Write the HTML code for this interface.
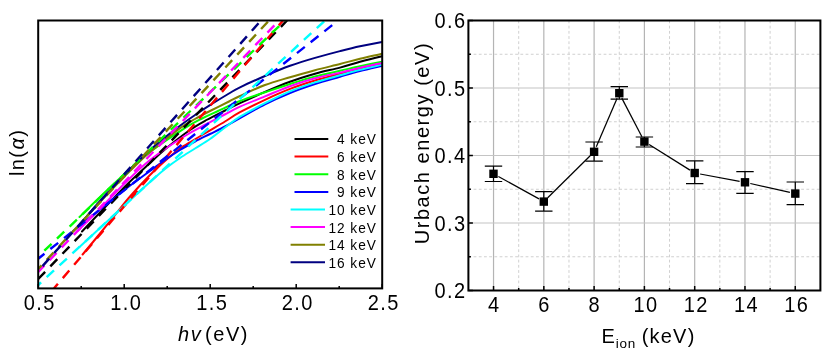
<!DOCTYPE html>
<html><head><meta charset="utf-8"><title>plot</title>
<style>html,body{margin:0;padding:0;background:#fff;overflow:hidden}svg{display:block;}text{filter:grayscale(1)}</style></head>
<body>
<svg width="830" height="354" viewBox="0 0 830 354">
<rect x="0" y="0" width="830" height="354" fill="#ffffff"/>
<defs><clipPath id="cl"><rect x="38.2" y="20.5" width="344.0" height="267.9"/></clipPath></defs>
<g clip-path="url(#cl)" fill="none">
<path d="M82.0 231.5 C85.0 228.3 92.8 220.0 100.0 212.5 C107.2 205.0 116.7 194.8 125.0 186.5 C133.3 178.2 143.2 169.3 150.0 163.0 C156.8 156.7 159.6 153.8 166.0 148.5 C172.4 143.2 181.8 135.8 188.5 131.0 C195.2 126.2 200.4 123.4 206.5 120.0 C212.6 116.6 219.4 113.3 225.0 110.5 C230.6 107.7 233.3 106.3 240.0 103.2 C246.7 100.1 256.7 95.5 265.0 91.9 C273.3 88.3 281.7 84.7 290.0 81.7 C298.3 78.7 306.7 76.2 315.0 73.8 C323.3 71.4 332.5 69.6 340.0 67.6 C347.5 65.6 353.0 63.7 360.0 61.8 C367.0 59.9 378.3 57.1 382.0 56.2" stroke="#000000" stroke-width="2" stroke-linecap="round"/>
<path d="M82.6 254.5 C85.5 251.0 94.6 240.1 100.0 233.5 C105.4 226.9 110.0 221.2 115.0 215.0 C120.0 208.8 124.2 203.2 130.0 196.5 C135.8 189.8 143.3 181.7 150.0 175.0 C156.7 168.3 165.0 160.9 170.0 156.5 C175.0 152.1 176.3 151.1 180.0 148.5 C183.7 145.9 187.6 143.7 192.0 141.0 C196.4 138.3 201.0 135.8 206.5 132.5 C212.0 129.2 219.4 124.9 225.0 121.5 C230.6 118.1 233.3 115.8 240.0 112.2 C246.7 108.6 256.7 103.7 265.0 99.8 C273.3 95.9 281.7 92.1 290.0 88.9 C298.3 85.7 306.7 83.0 315.0 80.5 C323.3 78.0 332.5 75.8 340.0 73.8 C347.5 71.8 353.0 70.3 360.0 68.7 C367.0 67.1 378.3 64.8 382.0 64.0" stroke="#ff0000" stroke-width="2" stroke-linecap="round"/>
<path d="M79.5 217.0 C82.9 213.7 92.4 204.2 100.0 197.0 C107.6 189.8 116.7 181.0 125.0 173.5 C133.3 166.0 140.2 159.5 150.0 152.0 C159.8 144.5 175.3 134.2 184.0 128.6 C192.7 123.0 196.3 121.4 202.0 118.5 C207.7 115.6 211.7 113.9 218.0 111.0 C224.3 108.1 232.2 104.1 240.0 101.0 C247.8 97.9 256.7 95.1 265.0 92.3 C273.3 89.5 281.7 86.6 290.0 84.0 C298.3 81.4 306.7 78.7 315.0 76.5 C323.3 74.3 332.5 72.5 340.0 70.8 C347.5 69.1 353.0 67.7 360.0 66.2 C367.0 64.7 378.3 62.5 382.0 61.8" stroke="#00ff00" stroke-width="2" stroke-linecap="round"/>
<path d="M73.0 231.0 C77.5 227.4 91.3 216.4 100.0 209.5 C108.7 202.6 116.7 195.9 125.0 189.5 C133.3 183.1 143.3 175.9 150.0 171.0 C156.7 166.1 160.0 163.5 165.0 160.0 C170.0 156.5 175.0 153.1 180.0 150.0 C185.0 146.9 190.0 144.2 195.0 141.5 C200.0 138.8 205.0 136.5 210.0 134.0 C215.0 131.5 220.0 129.2 225.0 126.5 C230.0 123.8 233.3 121.7 240.0 118.0 C246.7 114.3 256.7 108.5 265.0 104.3 C273.3 100.1 281.7 96.4 290.0 93.0 C298.3 89.6 306.7 86.7 315.0 84.0 C323.3 81.3 332.5 78.9 340.0 76.7 C347.5 74.5 353.0 72.8 360.0 71.0 C367.0 69.2 378.3 66.6 382.0 65.7" stroke="#0000ff" stroke-width="2" stroke-linecap="round"/>
<path d="M79.5 247.0 C82.9 243.8 92.4 235.0 100.0 228.0 C107.6 221.0 116.7 212.7 125.0 205.0 C133.3 197.3 143.3 188.0 150.0 182.0 C156.7 176.0 160.0 173.0 165.0 169.0 C170.0 165.0 175.0 161.4 180.0 158.0 C185.0 154.6 190.0 151.7 195.0 148.5 C200.0 145.3 205.0 142.5 210.0 139.0 C215.0 135.5 220.0 131.2 225.0 127.5 C230.0 123.8 233.3 120.8 240.0 116.7 C246.7 112.7 256.7 107.4 265.0 103.2 C273.3 99.0 281.7 94.9 290.0 91.4 C298.3 87.9 306.7 85.1 315.0 82.4 C323.3 79.7 332.5 77.4 340.0 75.3 C347.5 73.2 353.0 71.6 360.0 69.8 C367.0 68.0 378.3 65.5 382.0 64.6" stroke="#00ffff" stroke-width="2" stroke-linecap="round"/>
<path d="M77.7 231.0 C81.4 227.3 92.1 216.7 100.0 208.7 C107.9 200.7 116.7 191.1 125.0 183.0 C133.3 174.9 140.2 167.8 150.0 160.0 C159.8 152.2 174.6 142.5 184.0 136.5 C193.4 130.5 199.7 127.7 206.5 124.0 C213.3 120.3 219.1 117.4 224.7 114.5 C230.3 111.6 233.3 109.6 240.0 106.6 C246.7 103.6 256.7 99.8 265.0 96.4 C273.3 93.0 281.7 89.2 290.0 86.2 C298.3 83.2 306.7 80.6 315.0 78.3 C323.3 76.0 332.5 74.4 340.0 72.6 C347.5 70.8 353.0 69.3 360.0 67.7 C367.0 66.1 378.3 63.8 382.0 63.0" stroke="#ff00ff" stroke-width="2" stroke-linecap="round"/>
<path d="M80.0 224.0 C83.3 220.3 92.5 210.0 100.0 202.0 C107.5 194.0 116.7 184.3 125.0 176.0 C133.3 167.7 140.9 159.9 150.0 152.0 C159.1 144.1 171.9 134.1 179.4 128.6 C186.9 123.1 189.7 122.0 195.0 119.0 C200.3 116.0 205.3 113.4 211.0 110.5 C216.7 107.6 224.2 103.9 229.0 101.5 C233.8 99.1 234.0 98.8 240.0 96.0 C246.0 93.2 256.7 88.1 265.0 85.0 C273.3 81.9 281.7 79.7 290.0 77.2 C298.3 74.7 306.7 72.4 315.0 70.2 C323.3 68.0 332.5 65.9 340.0 64.0 C347.5 62.1 353.0 60.5 360.0 58.8 C367.0 57.1 378.3 54.6 382.0 53.7" stroke="#808000" stroke-width="2" stroke-linecap="round"/>
<path d="M80.0 224.5 C83.3 220.6 92.5 209.3 100.0 201.0 C107.5 192.7 116.7 183.0 125.0 174.5 C133.3 166.0 141.7 157.5 150.0 150.0 C158.3 142.5 167.5 135.3 175.0 129.5 C182.5 123.7 189.0 119.2 195.0 115.0 C201.0 110.8 205.3 108.1 211.0 104.5 C216.7 100.9 224.2 96.4 229.0 93.5 C233.8 90.6 234.0 90.2 240.0 87.3 C246.0 84.4 256.7 79.6 265.0 76.0 C273.3 72.4 281.7 68.8 290.0 65.8 C298.3 62.8 306.7 60.3 315.0 57.9 C323.3 55.5 332.5 53.0 340.0 51.1 C347.5 49.2 353.0 47.8 360.0 46.3 C367.0 44.8 378.3 42.6 382.0 41.9" stroke="#000080" stroke-width="2" stroke-linecap="round"/>
<path d="M38.2 279.0 L287.0 20.5" stroke="#000000" stroke-width="2.4" stroke-dasharray="10 7.5" stroke-dashoffset="0.0"/>
<path d="M54.0 288.4 L283.0 20.5" stroke="#ff0000" stroke-width="2.4" stroke-dasharray="10 7.5" stroke-dashoffset="4.0"/>
<path d="M38.2 256.6 L285.0 20.5" stroke="#00ff00" stroke-width="2.4" stroke-dasharray="10 7.5" stroke-dashoffset="9.0"/>
<path d="M38.2 258.7 L338.0 20.5" stroke="#0000ff" stroke-width="2.4" stroke-dasharray="10 7.5" stroke-dashoffset="2.0"/>
<path d="M38.2 285.0 L325.0 20.5" stroke="#00ffff" stroke-width="2.4" stroke-dasharray="10 7.5" stroke-dashoffset="6.0"/>
<path d="M38.2 272.0 L279.0 20.5" stroke="#ff00ff" stroke-width="2.4" stroke-dasharray="10 7.5" stroke-dashoffset="1.0"/>
<path d="M38.2 269.0 L269.0 20.5" stroke="#808000" stroke-width="2.4" stroke-dasharray="10 7.5" stroke-dashoffset="5.0"/>
<path d="M38.2 271.0 L261.0 20.5" stroke="#000080" stroke-width="2.4" stroke-dasharray="10 7.5" stroke-dashoffset="11.0"/>
</g>
<rect x="38.2" y="20.5" width="344.0" height="267.9" fill="none" stroke="#000" stroke-width="2"/>
<line x1="38.2" y1="288.4" x2="38.2" y2="283.9" stroke="#000" stroke-width="1.5"/>
<line x1="81.2" y1="288.4" x2="81.2" y2="285.9" stroke="#000" stroke-width="1.5"/>
<line x1="124.2" y1="288.4" x2="124.2" y2="283.9" stroke="#000" stroke-width="1.5"/>
<line x1="167.2" y1="288.4" x2="167.2" y2="285.9" stroke="#000" stroke-width="1.5"/>
<line x1="210.2" y1="288.4" x2="210.2" y2="283.9" stroke="#000" stroke-width="1.5"/>
<line x1="253.2" y1="288.4" x2="253.2" y2="285.9" stroke="#000" stroke-width="1.5"/>
<line x1="296.2" y1="288.4" x2="296.2" y2="283.9" stroke="#000" stroke-width="1.5"/>
<line x1="339.2" y1="288.4" x2="339.2" y2="285.9" stroke="#000" stroke-width="1.5"/>
<line x1="382.2" y1="288.4" x2="382.2" y2="283.9" stroke="#000" stroke-width="1.5"/>
<text transform="translate(39.70,310.40) scale(1,1.070)" text-anchor="middle" style="font-family:'Liberation Sans',sans-serif;fill:#000;font-size:20.00px;letter-spacing:1.40px">0.5</text>
<text transform="translate(126.30,310.40) scale(1,1.070)" text-anchor="middle" style="font-family:'Liberation Sans',sans-serif;fill:#000;font-size:20.00px;letter-spacing:1.40px">1.0</text>
<text transform="translate(212.30,310.40) scale(1,1.070)" text-anchor="middle" style="font-family:'Liberation Sans',sans-serif;fill:#000;font-size:20.00px;letter-spacing:1.40px">1.5</text>
<text transform="translate(297.70,310.40) scale(1,1.070)" text-anchor="middle" style="font-family:'Liberation Sans',sans-serif;fill:#000;font-size:20.00px;letter-spacing:1.40px">2.0</text>
<text transform="translate(383.70,310.40) scale(1,1.070)" text-anchor="middle" style="font-family:'Liberation Sans',sans-serif;fill:#000;font-size:20.00px;letter-spacing:1.40px">2.5</text>
<text transform="translate(178.00,340.60)" text-anchor="start" style="font-family:'Liberation Sans',sans-serif;fill:#000;font-size:20.00px;letter-spacing:1.60px"><tspan font-style="italic">hv</tspan><tspan dx="2.6">(eV)</tspan></text>
<text transform="translate(24.40,176.00) rotate(-90)" text-anchor="start" style="font-family:'Liberation Sans',sans-serif;fill:#000;font-size:20.00px;letter-spacing:1.40px">ln(<tspan font-style="italic">α</tspan>)</text>
<line x1="294.5" y1="139.0" x2="328.3" y2="139.0" stroke="#000000" stroke-width="2"/>
<text transform="translate(376.80,144.40) scale(1,1.120)" text-anchor="end" style="font-family:'Liberation Sans',sans-serif;fill:#000;font-size:13.70px;letter-spacing:0.95px">4 keV</text>
<line x1="294.5" y1="156.6" x2="328.3" y2="156.6" stroke="#ff0000" stroke-width="2"/>
<text transform="translate(376.80,162.02) scale(1,1.120)" text-anchor="end" style="font-family:'Liberation Sans',sans-serif;fill:#000;font-size:13.70px;letter-spacing:0.95px">6 keV</text>
<line x1="294.5" y1="174.2" x2="328.3" y2="174.2" stroke="#00ff00" stroke-width="2"/>
<text transform="translate(376.80,179.64) scale(1,1.120)" text-anchor="end" style="font-family:'Liberation Sans',sans-serif;fill:#000;font-size:13.70px;letter-spacing:0.95px">8 keV</text>
<line x1="294.5" y1="191.9" x2="328.3" y2="191.9" stroke="#0000ff" stroke-width="2"/>
<text transform="translate(376.80,197.26) scale(1,1.120)" text-anchor="end" style="font-family:'Liberation Sans',sans-serif;fill:#000;font-size:13.70px;letter-spacing:0.95px">9 keV</text>
<line x1="290.6" y1="209.5" x2="325.0" y2="209.5" stroke="#00ffff" stroke-width="2"/>
<text transform="translate(376.80,214.88) scale(1,1.120)" text-anchor="end" style="font-family:'Liberation Sans',sans-serif;fill:#000;font-size:13.70px;letter-spacing:0.95px">10 keV</text>
<line x1="290.6" y1="227.1" x2="325.0" y2="227.1" stroke="#ff00ff" stroke-width="2"/>
<text transform="translate(376.80,232.50) scale(1,1.120)" text-anchor="end" style="font-family:'Liberation Sans',sans-serif;fill:#000;font-size:13.70px;letter-spacing:0.95px">12 keV</text>
<line x1="290.6" y1="244.7" x2="325.0" y2="244.7" stroke="#808000" stroke-width="2"/>
<text transform="translate(376.80,250.12) scale(1,1.120)" text-anchor="end" style="font-family:'Liberation Sans',sans-serif;fill:#000;font-size:13.70px;letter-spacing:0.95px">14 keV</text>
<line x1="290.6" y1="262.3" x2="325.0" y2="262.3" stroke="#000080" stroke-width="2"/>
<text transform="translate(376.80,267.74) scale(1,1.120)" text-anchor="end" style="font-family:'Liberation Sans',sans-serif;fill:#000;font-size:13.70px;letter-spacing:0.95px">16 keV</text>
<line x1="493.54" y1="20.5" x2="493.54" y2="290.5" stroke="#b4b4b4" stroke-width="1.2"/>
<line x1="518.69" y1="20.5" x2="518.69" y2="290.5" stroke="#d0d0d0" stroke-width="1" stroke-dasharray="2.8 2.4"/>
<line x1="543.83" y1="20.5" x2="543.83" y2="290.5" stroke="#b4b4b4" stroke-width="1.2"/>
<line x1="568.97" y1="20.5" x2="568.97" y2="290.5" stroke="#d0d0d0" stroke-width="1" stroke-dasharray="2.8 2.4"/>
<line x1="594.11" y1="20.5" x2="594.11" y2="290.5" stroke="#b4b4b4" stroke-width="1.2"/>
<line x1="619.26" y1="20.5" x2="619.26" y2="290.5" stroke="#d0d0d0" stroke-width="1" stroke-dasharray="2.8 2.4"/>
<line x1="644.40" y1="20.5" x2="644.40" y2="290.5" stroke="#b4b4b4" stroke-width="1.2"/>
<line x1="669.54" y1="20.5" x2="669.54" y2="290.5" stroke="#d0d0d0" stroke-width="1" stroke-dasharray="2.8 2.4"/>
<line x1="694.69" y1="20.5" x2="694.69" y2="290.5" stroke="#b4b4b4" stroke-width="1.2"/>
<line x1="719.83" y1="20.5" x2="719.83" y2="290.5" stroke="#d0d0d0" stroke-width="1" stroke-dasharray="2.8 2.4"/>
<line x1="744.97" y1="20.5" x2="744.97" y2="290.5" stroke="#b4b4b4" stroke-width="1.2"/>
<line x1="770.11" y1="20.5" x2="770.11" y2="290.5" stroke="#d0d0d0" stroke-width="1" stroke-dasharray="2.8 2.4"/>
<line x1="795.26" y1="20.5" x2="795.26" y2="290.5" stroke="#b4b4b4" stroke-width="1.2"/>
<line x1="468.4" y1="256.75" x2="820.4" y2="256.75" stroke="#d0d0d0" stroke-width="1" stroke-dasharray="2.8 2.4"/>
<line x1="468.4" y1="223.00" x2="820.4" y2="223.00" stroke="#c4c4c4" stroke-width="1.2"/>
<line x1="468.4" y1="189.25" x2="820.4" y2="189.25" stroke="#d0d0d0" stroke-width="1" stroke-dasharray="2.8 2.4"/>
<line x1="468.4" y1="155.50" x2="820.4" y2="155.50" stroke="#c4c4c4" stroke-width="1.2"/>
<line x1="468.4" y1="121.75" x2="820.4" y2="121.75" stroke="#d0d0d0" stroke-width="1" stroke-dasharray="2.8 2.4"/>
<line x1="468.4" y1="88.00" x2="820.4" y2="88.00" stroke="#c4c4c4" stroke-width="1.2"/>
<line x1="468.4" y1="54.25" x2="820.4" y2="54.25" stroke="#d0d0d0" stroke-width="1" stroke-dasharray="2.8 2.4"/>
<line x1="498.4" y1="176.5" x2="539.0" y2="198.9" stroke="#000" stroke-width="1.25"/>
<line x1="547.7" y1="197.7" x2="590.2" y2="155.7" stroke="#000" stroke-width="1.25"/>
<line x1="596.3" y1="146.7" x2="617.1" y2="98.3" stroke="#000" stroke-width="1.25"/>
<line x1="621.8" y1="98.1" x2="641.9" y2="136.7" stroke="#000" stroke-width="1.25"/>
<line x1="649.1" y1="144.5" x2="690.0" y2="170.1" stroke="#000" stroke-width="1.25"/>
<line x1="700.1" y1="174.0" x2="739.6" y2="181.3" stroke="#000" stroke-width="1.25"/>
<line x1="750.3" y1="183.5" x2="789.9" y2="192.4" stroke="#000" stroke-width="1.25"/>
<path d="M493.5 166.2 V181.5 M484.8 166.2 H502.2 M484.8 181.5 H502.2" stroke="#000" stroke-width="1.2" fill="none"/>
<rect x="489.3" y="169.6" width="8.4" height="8.4" fill="#000"/>
<path d="M543.8 191.7 V211.2 M535.1 191.7 H552.5 M535.1 211.2 H552.5" stroke="#000" stroke-width="1.2" fill="none"/>
<rect x="539.6" y="197.4" width="8.4" height="8.4" fill="#000"/>
<path d="M594.1 142.0 V161.1 M585.4 142.0 H602.8 M585.4 161.1 H602.8" stroke="#000" stroke-width="1.2" fill="none"/>
<rect x="589.9" y="147.6" width="8.4" height="8.4" fill="#000"/>
<path d="M619.3 86.6 V99.1 M610.6 86.6 H628.0 M610.6 99.1 H628.0" stroke="#000" stroke-width="1.2" fill="none"/>
<rect x="615.1" y="89.0" width="8.4" height="8.4" fill="#000"/>
<path d="M644.4 137.0 V147.0 M635.7 137.0 H653.1 M635.7 147.0 H653.1" stroke="#000" stroke-width="1.2" fill="none"/>
<rect x="640.2" y="137.4" width="8.4" height="8.4" fill="#000"/>
<path d="M694.7 160.8 V183.7 M686.0 160.8 H703.4 M686.0 183.7 H703.4" stroke="#000" stroke-width="1.2" fill="none"/>
<rect x="690.5" y="168.8" width="8.4" height="8.4" fill="#000"/>
<path d="M745.0 171.6 V193.3 M736.3 171.6 H753.7 M736.3 193.3 H753.7" stroke="#000" stroke-width="1.2" fill="none"/>
<rect x="740.8" y="178.1" width="8.4" height="8.4" fill="#000"/>
<path d="M795.3 182.0 V204.6 M786.6 182.0 H804.0 M786.6 204.6 H804.0" stroke="#000" stroke-width="1.2" fill="none"/>
<rect x="791.1" y="189.4" width="8.4" height="8.4" fill="#000"/>
<rect x="468.4" y="20.5" width="352.0" height="270.0" fill="none" stroke="#000" stroke-width="2"/>
<line x1="493.54" y1="290.5" x2="493.54" y2="286.0" stroke="#000" stroke-width="1.5"/>
<line x1="518.69" y1="290.5" x2="518.69" y2="288.0" stroke="#000" stroke-width="1.5"/>
<line x1="543.83" y1="290.5" x2="543.83" y2="286.0" stroke="#000" stroke-width="1.5"/>
<line x1="568.97" y1="290.5" x2="568.97" y2="288.0" stroke="#000" stroke-width="1.5"/>
<line x1="594.11" y1="290.5" x2="594.11" y2="286.0" stroke="#000" stroke-width="1.5"/>
<line x1="619.26" y1="290.5" x2="619.26" y2="288.0" stroke="#000" stroke-width="1.5"/>
<line x1="644.40" y1="290.5" x2="644.40" y2="286.0" stroke="#000" stroke-width="1.5"/>
<line x1="669.54" y1="290.5" x2="669.54" y2="288.0" stroke="#000" stroke-width="1.5"/>
<line x1="694.69" y1="290.5" x2="694.69" y2="286.0" stroke="#000" stroke-width="1.5"/>
<line x1="719.83" y1="290.5" x2="719.83" y2="288.0" stroke="#000" stroke-width="1.5"/>
<line x1="744.97" y1="290.5" x2="744.97" y2="286.0" stroke="#000" stroke-width="1.5"/>
<line x1="770.11" y1="290.5" x2="770.11" y2="288.0" stroke="#000" stroke-width="1.5"/>
<line x1="795.26" y1="290.5" x2="795.26" y2="286.0" stroke="#000" stroke-width="1.5"/>
<line x1="468.4" y1="290.50" x2="472.9" y2="290.50" stroke="#000" stroke-width="1.5"/>
<line x1="468.4" y1="256.75" x2="470.9" y2="256.75" stroke="#000" stroke-width="1.5"/>
<line x1="468.4" y1="223.00" x2="472.9" y2="223.00" stroke="#000" stroke-width="1.5"/>
<line x1="468.4" y1="189.25" x2="470.9" y2="189.25" stroke="#000" stroke-width="1.5"/>
<line x1="468.4" y1="155.50" x2="472.9" y2="155.50" stroke="#000" stroke-width="1.5"/>
<line x1="468.4" y1="121.75" x2="470.9" y2="121.75" stroke="#000" stroke-width="1.5"/>
<line x1="468.4" y1="88.00" x2="472.9" y2="88.00" stroke="#000" stroke-width="1.5"/>
<line x1="468.4" y1="54.25" x2="470.9" y2="54.25" stroke="#000" stroke-width="1.5"/>
<line x1="468.4" y1="20.50" x2="472.9" y2="20.50" stroke="#000" stroke-width="1.5"/>
<text transform="translate(494.24,312.00) scale(1,1.070)" text-anchor="middle" style="font-family:'Liberation Sans',sans-serif;fill:#000;font-size:20.00px;letter-spacing:1.40px">4</text>
<text transform="translate(544.53,312.00) scale(1,1.070)" text-anchor="middle" style="font-family:'Liberation Sans',sans-serif;fill:#000;font-size:20.00px;letter-spacing:1.40px">6</text>
<text transform="translate(594.81,312.00) scale(1,1.070)" text-anchor="middle" style="font-family:'Liberation Sans',sans-serif;fill:#000;font-size:20.00px;letter-spacing:1.40px">8</text>
<text transform="translate(645.90,312.00) scale(1,1.070)" text-anchor="middle" style="font-family:'Liberation Sans',sans-serif;fill:#000;font-size:20.00px;letter-spacing:1.40px">10</text>
<text transform="translate(696.19,312.00) scale(1,1.070)" text-anchor="middle" style="font-family:'Liberation Sans',sans-serif;fill:#000;font-size:20.00px;letter-spacing:1.40px">12</text>
<text transform="translate(746.47,312.00) scale(1,1.070)" text-anchor="middle" style="font-family:'Liberation Sans',sans-serif;fill:#000;font-size:20.00px;letter-spacing:1.40px">14</text>
<text transform="translate(796.76,312.00) scale(1,1.070)" text-anchor="middle" style="font-family:'Liberation Sans',sans-serif;fill:#000;font-size:20.00px;letter-spacing:1.40px">16</text>
<text transform="translate(466.60,298.00) scale(1,1.070)" text-anchor="end" style="font-family:'Liberation Sans',sans-serif;fill:#000;font-size:20.00px;letter-spacing:1.40px">0.2</text>
<text transform="translate(466.60,230.50) scale(1,1.070)" text-anchor="end" style="font-family:'Liberation Sans',sans-serif;fill:#000;font-size:20.00px;letter-spacing:1.40px">0.3</text>
<text transform="translate(466.60,163.00) scale(1,1.070)" text-anchor="end" style="font-family:'Liberation Sans',sans-serif;fill:#000;font-size:20.00px;letter-spacing:1.40px">0.4</text>
<text transform="translate(466.60,95.50) scale(1,1.070)" text-anchor="end" style="font-family:'Liberation Sans',sans-serif;fill:#000;font-size:20.00px;letter-spacing:1.40px">0.5</text>
<text transform="translate(466.60,28.00) scale(1,1.070)" text-anchor="end" style="font-family:'Liberation Sans',sans-serif;fill:#000;font-size:20.00px;letter-spacing:1.40px">0.6</text>
<text transform="translate(601.60,343.00)" text-anchor="start" style="font-family:'Liberation Sans',sans-serif;fill:#000;font-size:20.00px;letter-spacing:1.40px">E<tspan dy="5.3" dx="-0.6" style="font-size:13.5px;letter-spacing:0.8px">ion</tspan><tspan dy="-5.3" dx="-1.2" style="letter-spacing:1.2px"> (keV)</tspan></text>
<text transform="translate(428.60,244.30) rotate(-90)" text-anchor="start" style="font-family:'Liberation Sans',sans-serif;fill:#000;font-size:20.00px;letter-spacing:1.55px">Urbach energy (eV)</text>
</svg>
</body></html>
